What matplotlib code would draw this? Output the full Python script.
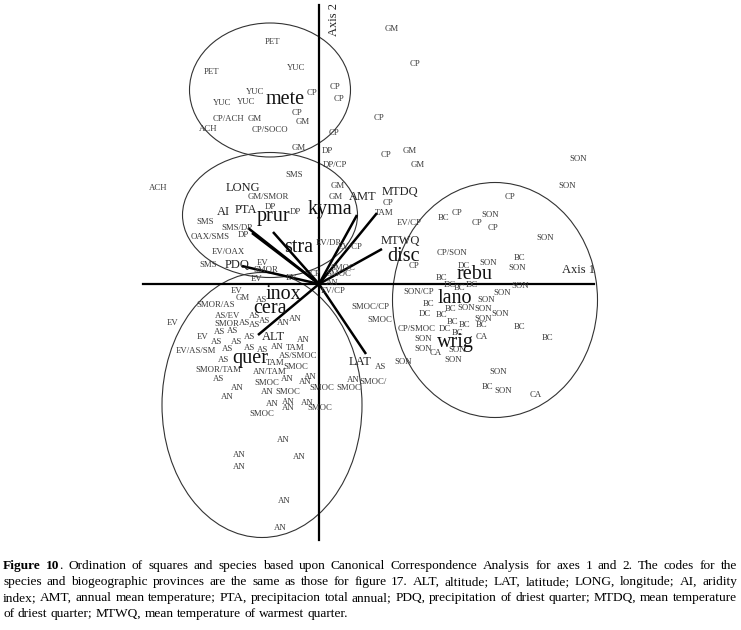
import matplotlib
matplotlib.use("Agg")
import matplotlib.pyplot as plt
from matplotlib.patches import Ellipse

plt.rcParams['font.family'] = ['Liberation Serif', 'DejaVu Serif']

# ---- squares (sites) labelled by biogeographic province, CCA scores axis1/axis2
top_lbl = ["PET", "YUC", "PET", "YUC", "YUC", "YUC", "CP", "CP", "CP", "CP/ACH", "GM", "CP", "GM", "ACH",
           "CP/SOCO", "CP", "GM", "DP", "GM", "CP", "CP", "CP", "GM", "GM", "DP/CP", "SON", "SON"]
top_x = [-0.47, -0.23, -1.08, -0.64, -0.97, -0.73, -0.07, 0.16, 0.20, -0.91, -0.64, -0.22, -0.16, -1.11,
         -0.49, 0.15, -0.20, 0.08, 0.73, 0.96, 0.60, 0.67, 0.91, 0.99, 0.16, 2.59, 2.48]
top_y = [2.42, 2.16, 2.12, 1.92, 1.81, 1.82, 1.91, 1.97, 1.85, 1.65, 1.65, 1.71, 1.62, 1.55,
         1.54, 1.51, 1.36, 1.33, 2.55, 2.20, 1.66, 1.29, 1.33, 1.19, 1.19, 1.25, 0.98]

mid_lbl = ["SMS", "ACH", "GM/SMOR", "GM", "GM", "DP", "DP", "SMS", "SMS/DP", "DP", "OAX/SMS", "EV/OAX",
           "SMS", "EV", "SMOR", "EV", "EV/DP", "EV/CP", "CP", "TAM", "EV/CP", "CP", "CP", "SMOC", "SMOC",
           "EV", "AN", "EV/CP", "SMOC/CP", "SMOC"]
mid_x = [-0.25, -1.61, -0.51, 0.19, 0.17, -0.49, -0.24, -1.14, -0.82, -0.76, -1.09, -0.91,
         -1.11, -0.56, -0.53, -0.62, 0.09, 0.31, 0.69, 0.65, 0.90, 0.95, -0.04, 0.24, 0.20,
         -0.27, 0.13, 0.14, 0.51, 0.61]
mid_y = [1.09, 0.96, 0.87, 0.98, 0.87, 0.77, 0.72, 0.62, 0.56, 0.49, 0.47, 0.32,
         0.19, 0.21, 0.14, 0.05, 0.41, 0.37, 0.81, 0.71, 0.61, 0.18, 0.10, 0.16, 0.10,
         0.06, 0.01, -0.07, -0.23, -0.36]

low_lbl = ["EV", "GM", "AS", "SMOR/AS", "EV", "AS/EV", "AS", "AS", "SMOR", "AS", "AS", "AN", "AN", "AS",
           "AS", "EV", "AS", "AN", "AS", "AS", "EV/AS/SM", "AS", "AS", "AS", "AN", "TAM", "AS", "AS/SMOC",
           "TAM", "SMOC", "SMOR/TAM", "AN/TAM", "AS", "SMOC", "AN", "AN", "AN", "AN", "AN", "AN", "SMOC",
           "SMOC", "SMOC", "AN", "SMOC/", "AN", "AN", "AN", "AN", "SMOC", "SMOC", "AS", "AN", "AN", "AN",
           "AN", "AN", "AN"]
low_x = [-0.82, -0.76, -0.57, -1.03, -1.46, -0.91, -0.64, -0.54, -0.92, -0.74, -0.64, -0.36, -0.24, -0.99,
         -0.86, -1.16, -0.69, -0.16, -1.02, -0.82, -1.23, -0.91, -0.69, -0.56, -0.42, -0.24, -0.95, -0.21,
         -0.44, -0.23, -1.01, -0.49, -1.00, -0.52, -0.32, -0.14, -0.09, -0.82, -0.92, -0.52, -0.31,
         0.03, 0.30, 0.34, 0.54, -0.47, -0.31, -0.31, -0.12, 0.01, -0.57, 0.62, -0.36, -0.80, -0.80,
         -0.20, -0.35, -0.39]
low_y = [-0.07, -0.14, -0.16, -0.21, -0.39, -0.32, -0.32, -0.37, -0.40, -0.39, -0.41, -0.39, -0.35, -0.48,
         -0.47, -0.53, -0.53, -0.56, -0.58, -0.58, -0.67, -0.65, -0.64, -0.66, -0.63, -0.64, -0.76, -0.72,
         -0.79, -0.83, -0.86, -0.88, -0.95, -0.99, -0.95, -0.98, -0.93, -1.04, -1.13, -1.08, -1.08,
         -1.04, -1.04, -0.96, -0.98, -1.20, -1.18, -1.24, -1.19, -1.24, -1.30, -0.83, -1.56, -1.71, -1.83,
         -1.73, -2.17, -2.44]

right_lbl = ["CP", "BC", "CP", "CP", "SON", "CP", "SON", "CP/SON", "DC", "SON", "BC", "SON", "BC", "DC",
             "BC", "DC", "SON", "SON", "SON/CP", "SON", "BC", "DC", "BC", "BC", "SON", "SON", "SON", "SON",
             "CP/SMOC", "DC", "BC", "BC", "BC", "BC", "BC", "CA", "BC", "SON", "SON", "CA", "SON", "SON",
             "SON", "SON", "BC", "SON", "CA"]
right_x = [1.91, 1.25, 1.38, 1.58, 1.71, 1.74, 2.26, 1.33, 1.45, 1.69, 2.01, 1.98, 1.23, 1.31,
           1.41, 1.53, 2.01, 1.83, 1.00, 1.67, 1.10, 1.06, 1.23, 1.32, 1.47, 1.64, 1.81, 1.64,
           0.98, 1.26, 1.34, 1.46, 1.63, 2.01, 2.29, 1.63, 1.39, 1.04, 1.04, 1.17, 1.38, 1.34,
           0.84, 1.79, 1.69, 1.84, 2.17]
right_y = [0.87, 0.66, 0.71, 0.61, 0.69, 0.56, 0.46, 0.31, 0.18, 0.21, 0.26, 0.16, 0.06, -0.01,
           -0.04, -0.01, -0.02, -0.09, -0.08, -0.16, -0.20, -0.30, -0.31, -0.25, -0.24, -0.25, -0.30, -0.35,
           -0.45, -0.45, -0.38, -0.41, -0.41, -0.43, -0.54, -0.53, -0.49, -0.55, -0.65, -0.69, -0.66, -0.76,
           -0.78, -0.88, -1.03, -1.07, -1.11]

# ---- species scores
sp_lbl = ["mete", "prur", "kyma", "stra", "disc", "rebu", "lano", "wrig", "inox", "cera", "quer"]
sp_x = [-0.34, -0.46, 0.11, -0.20, 0.85, 1.56, 1.36, 1.36, -0.36, -0.49, -0.69]
sp_y = [1.84, 0.68, 0.75, 0.37, 0.28, 0.10, -0.14, -0.58, -0.10, -0.24, -0.74]

# ---- environmental vectors (tip) and where their names sit
env_lbl = ["LONG", "AI", "PTA", "PDQ", "AMT", "MTDQ", "MTWQ", "ALT", "LAT"]
env_x = [-0.71, -0.67, -0.46, -0.77, 0.38, 0.58, 0.63, -0.61, 0.47]
env_y = [0.56, 0.51, 0.52, 0.18, 0.69, 0.71, 0.35, -0.51, -0.70]
env_tx = [-0.76, -0.96, -0.73, -0.82, 0.44, 0.81, 0.81, -0.46, 0.41]
env_ty = [0.96, 0.72, 0.74, 0.19, 0.87, 0.92, 0.43, -0.53, -0.78]

# ---- groups drawn by hand (centre x, centre y, width, height)
grp_cx = [-0.49, -0.49, -0.57, 1.76]
grp_cy = [1.94, 0.69, -1.21, -0.16]
grp_w = [1.61, 1.75, 2.00, 2.05]
grp_h = [1.34, 1.25, 2.65, 2.35]

axis1_range = [-1.76, 2.75]
axis2_range = [-2.56, 2.79]

caption = [
    "Figure 10. Ordination of squares and species based upon Canonical Correspondence Analysis for axes 1 and 2.  The codes for the",
    "species and biogeographic provinces are the same as those for figure 17. ALT, altitude; LAT, latitude; LONG, longitude; AI, aridity",
    "index; AMT, annual mean temperature; PTA, precipitacion total annual; PDQ, precipitation of driest quarter; MTDQ, mean temperature",
    "of driest quarter;  MTWQ, mean temperature of warmest quarter.",
]

W, H, DPI = 741, 630, 100
fig = plt.figure(figsize=(W / DPI, H / DPI), dpi=DPI)
ax = fig.add_axes([0, 0, 1, 1])
ax.set_xlim(-3.19, 4.22)
ax.set_ylim(-3.46, 2.84)
ax.axis('off')

# axes of the ordination
ax.plot(axis1_range, [0, 0], color='black', lw=1.6, zorder=2)
ax.plot([0, 0], axis2_range, color='black', lw=1.6, zorder=2)
ax.text(2.59, 0.14, "Axis 1", fontsize=9, ha='center', va='center', color='#222222')
ax.text(0.15, 2.65, "Axis 2", fontsize=9, ha='center', va='center', rotation=90, color='#222222')

for i in range(len(grp_cx)):
    ax.add_patch(Ellipse((grp_cx[i], grp_cy[i]), grp_w[i], grp_h[i], fill=False,
                         edgecolor='#333333', lw=0.8, zorder=1))

for i in range(len(env_lbl)):
    ax.plot([0, env_x[i]], [0, env_y[i]], color='black', lw=1.8, solid_capstyle='butt', zorder=3)

# site codes
for lbl, xs, ys in [(top_lbl, top_x, top_y), (mid_lbl, mid_x, mid_y),
                    (low_lbl, low_x, low_y), (right_lbl, right_x, right_y)]:
    for i in range(len(lbl)):
        ax.text(xs[i], ys[i], lbl[i], fontsize=6.3, ha='center', va='center', color='#3a3a3a', zorder=4)

for i in range(len(env_lbl)):
    ax.text(env_tx[i], env_ty[i], env_lbl[i], fontsize=9, ha='center', va='center', color='#222222', zorder=5)

for i in range(len(sp_lbl)):
    ax.text(sp_x[i], sp_y[i], sp_lbl[i], fontsize=14.5, ha='center', va='center', color='#111111', zorder=6)

# caption, justified like the original
r = fig.canvas.get_renderer()


def runs(word):
    if word == "Figure":
        return [("Figure", "bold")]
    if word == "10.":
        return [("10", "bold"), (".", "normal")]
    return [(word, "normal")]


def text_w(s, weight, fs):
    t = fig.text(0, 0, s, fontsize=fs, fontweight=weight)
    w = t.get_window_extent(r).width
    t.remove()
    return w


def word_w(word, fs):
    return sum(text_w(s, wt, fs) for s, wt in runs(word))


left, right = 3, 737
fs = 9.6
# smallest font step where every justified line still keeps a small gap
while True:
    ok = True
    for line in caption[:-1]:
        words = line.split()
        natural = sum(word_w(w, fs) for w in words) + (len(words) - 1) * 0.14 * fs * DPI / 72
        if natural > right - left:
            ok = False
    if ok:
        break
    fs -= 0.1

baselines = [569, 585, 601, 617]
for li, line in enumerate(caption):
    words = line.split()
    widths = [word_w(w, fs) for w in words]
    if li < len(caption) - 1:
        gap = (right - left - sum(widths)) / (len(words) - 1)
    else:
        gap = 0.25 * fs * DPI / 72
    x = left
    for w, ww in zip(words, widths):
        xx = x
        for s, wt in runs(w):
            fig.text(xx / W, 1 - baselines[li] / H, s, fontsize=fs, fontweight=wt,
                     ha='left', va='baseline', color='black')
            xx += text_w(s, wt, fs)
        x += ww + gap

fig.savefig("out.png", dpi=DPI)
